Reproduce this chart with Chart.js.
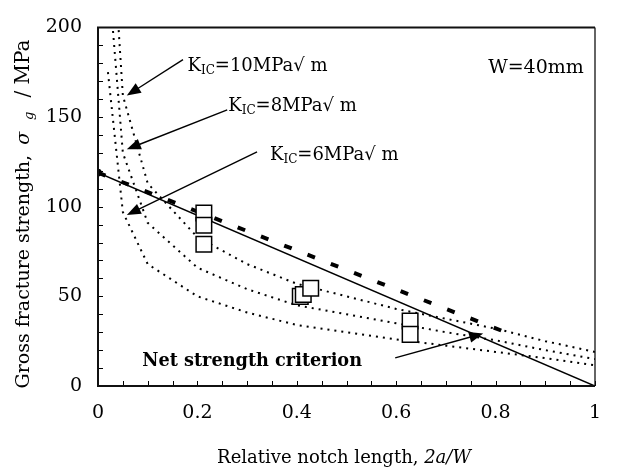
<!DOCTYPE html>
<html><head><meta charset="utf-8">
<script src="https://cdn.jsdelivr.net/npm/chart.js@4"></script>
<style>html,body{margin:0;padding:0;background:#fff}#wrap{width:631px;height:468px}</style>
</head><body><div id="wrap"><canvas id="c" width="631" height="468"></canvas></div>
<script>
// ---- data ----
const alphaK    = [0.02, 0.05, 0.1, 0.2, 0.3, 0.4, 0.5, 0.6, 0.7, 0.8, 0.9, 1.0];
const sigmaK10  = [292, 162, 113, 83, 68, 57, 50, 43, 37.5, 32, 25, 19];
const sigmaK8   = [233, 130, 91, 66, 54, 45, 40, 35, 30, 25.5, 20, 15];
const sigmaK6   = [175, 97, 68, 50, 41, 34, 30, 26, 22.5, 19, 15.5, 11.5];
const netAlpha  = [0, 1];
const netSigma  = [119, 0];
const dashAlpha = [0, 0.82];
const dashSigma = [119, 30];
const expAlpha  = [0.213, 0.213, 0.213, 0.407, 0.413, 0.428, 0.628, 0.628];
const expSigma  = [96.5, 89.7, 79.1, 50, 51, 54.5, 36.2, 28.8];
const xTicks    = [0, 0.2, 0.4, 0.6, 0.8, 1];
const yTicks    = [0, 50, 100, 150, 200];
const kLabels   = ['10', '8', '6'];

// annotations (data coordinates)
const kText   = [{x:0.18, y:175.6}, {x:0.262, y:153.4}, {x:0.346, y:126.3}];
const kArrows = [{x1:0.171,y1:182,x2:0.058,y2:162},{x1:0.26,y1:154,x2:0.058,y2:132},{x1:0.32,y1:130.6,x2:0.058,y2:95.4}];
const netArrow = {x1:0.598,y1:15.7,x2:0.775,y2:29.3};

const pts = (xs, ys) => xs.map((x, i) => ({x, y: ys[i]}));
const SERIF = "'DejaVu Serif', serif";

function drawArrow(ctx, x1, y1, x2, y2) {
  const a = Math.atan2(y2 - y1, x2 - x1), L = 14, W = 5.5;
  const c = Math.cos(a), s = Math.sin(a);
  ctx.beginPath(); ctx.moveTo(x1, y1); ctx.lineTo(x2 - L * 0.8 * c, y2 - L * 0.8 * s); ctx.stroke();
  ctx.beginPath(); ctx.moveTo(x2, y2);
  ctx.lineTo(x2 - L * c + W * s, y2 - L * s - W * c);
  ctx.lineTo(x2 - L * c - W * s, y2 - L * s + W * c);
  ctx.closePath(); ctx.fill();
}

function drawParts(ctx, x, y, parts) {
  let cx = x;
  for (const p of parts) {
    ctx.font = p.f;
    ctx.fillText(p.t, cx, y + (p.dy || 0));
    cx += ctx.measureText(p.t).width + (p.gap || 0);
  }
}
function partsWidth(ctx, parts) {
  let w = 0;
  for (const p of parts) { ctx.font = p.f; w += ctx.measureText(p.t).width + (p.gap || 0); }
  return w;
}

const decor = {
  id: 'decor',
  beforeDatasetsDraw(chart) {
    const {ctx, chartArea: ca, scales: {x, y}} = chart;
    ctx.save();
    ctx.strokeStyle = '#000'; ctx.lineWidth = 1;
    for (let v = 0; v <= 1.0001; v += 0.05) {
      const px = Math.round(x.getPixelForValue(v)) + 0.5;
      ctx.beginPath(); ctx.moveTo(px, ca.bottom); ctx.lineTo(px, ca.bottom - 5); ctx.stroke();
    }
    for (let v = 0; v <= 200; v += 10) {
      const py = Math.round(y.getPixelForValue(v)) + 0.5;
      ctx.beginPath(); ctx.moveTo(ca.left, py); ctx.lineTo(ca.left + 5, py); ctx.stroke();
    }
    ctx.restore();
  },
  afterDatasetsDraw(chart) {
    const {ctx, chartArea: ca, scales: {x, y}} = chart;
    ctx.save();
    ctx.strokeStyle = '#111';
    ctx.lineWidth = 2;
    ctx.beginPath();
    ctx.moveTo(ca.right, ca.top); ctx.lineTo(ca.left, ca.top); ctx.lineTo(ca.left, ca.bottom); ctx.lineTo(ca.right, ca.bottom);
    ctx.stroke();
    ctx.lineWidth = 1.3;
    ctx.beginPath(); ctx.moveTo(ca.right, ca.top); ctx.lineTo(ca.right, ca.bottom); ctx.stroke();

    ctx.fillStyle = '#000'; ctx.strokeStyle = '#000'; ctx.lineWidth = 1.4;
    for (const a of kArrows) {
      drawArrow(ctx, x.getPixelForValue(a.x1), y.getPixelForValue(a.y1), x.getPixelForValue(a.x2), y.getPixelForValue(a.y2));
    }
    drawArrow(ctx, x.getPixelForValue(netArrow.x1), y.getPixelForValue(netArrow.y1), x.getPixelForValue(netArrow.x2), y.getPixelForValue(netArrow.y2));

    ctx.textBaseline = 'alphabetic'; ctx.textAlign = 'left';
    kText.forEach((p, i) => {
      drawParts(ctx, x.getPixelForValue(p.x), y.getPixelForValue(p.y), [
        {t: 'K', f: `18px ${SERIF}`},
        {t: 'IC', f: `12px ${SERIF}`, dy: 3},
        {t: '=' + kLabels[i] + 'MPa\u221A m', f: `18px ${SERIF}`}
      ]);
    });
    ctx.font = `19px ${SERIF}`;
    ctx.fillText('W=40mm', x.getPixelForValue(0.785), y.getPixelForValue(174.4));
    ctx.font = `bold 17.7px ${SERIF}`;
    ctx.fillText('Net strength criterion', x.getPixelForValue(0.089), y.getPixelForValue(11.4));

    const xp = [
      {t: 'Relative notch length, ', f: `18px ${SERIF}`},
      {t: '2a/W', f: `italic 18px ${SERIF}`}
    ];
    const xw = partsWidth(ctx, xp);
    drawParts(ctx, 344 - xw / 2, 463, xp);

    const yp = [
      {t: 'Gross fracture strength, ', f: `19px ${SERIF}`, gap: 4},
      {t: '\u03C3', f: `italic 19px ${SERIF}`, gap: 12},
      {t: 'g', f: `italic 13px ${SERIF}`, dy: 4, gap: 14},
      {t: '/ MPa', f: `20px ${SERIF}`}
    ];
    const yw = partsWidth(ctx, yp);
    ctx.translate(29, 214);
    ctx.rotate(-Math.PI / 2);
    drawParts(ctx, -yw / 2, 0, yp);
    ctx.restore();
  }
};

const dotted = (d) => ({
  data: d, showLine: true, borderColor: '#000', borderWidth: 2, borderDash: [2, 5],
  borderCapStyle: 'butt', pointRadius: 0, tension: 0, order: 3
});

new Chart(document.getElementById('c'), {
  type: 'scatter',
  data: {
    datasets: [
      {label: 'Experiment', data: pts(expAlpha, expSigma), pointStyle: 'rect', pointRadius: 11,
       borderColor: '#000', backgroundColor: '#fff', borderWidth: 1.5, showLine: false, order: 0},
      {label: 'Net strength criterion', data: pts(netAlpha, netSigma), showLine: true, borderColor: '#000',
       borderWidth: 1.6, pointRadius: [3, 0], pointBackgroundColor: '#000', pointBorderColor: '#000', order: 1},
      {label: 'Dashed', data: pts(dashAlpha, dashSigma), showLine: true, borderColor: '#000', borderWidth: 4,
       borderDash: [8, 17], borderCapStyle: 'butt', pointRadius: 0, order: 2},
      Object.assign(dotted(pts(alphaK, sigmaK10)), {label: 'KIC=10'}),
      Object.assign(dotted(pts(alphaK, sigmaK8)), {label: 'KIC=8'}),
      Object.assign(dotted(pts(alphaK, sigmaK6)), {label: 'KIC=6'})
    ]
  },
  options: {
    responsive: false, animation: false, events: [],
    plugins: {legend: {display: false}, tooltip: {enabled: false}},
    layout: {padding: {top: 17, right: 36, left: 0, bottom: 0}},
    scales: {
      x: {
        type: 'linear', min: 0, max: 1,
        afterFit: s => { s.height = 82; },
        afterBuildTicks: s => { s.ticks = xTicks.map(v => ({value: v})); },
        grid: {display: false, drawTicks: false}, border: {display: false},
        ticks: {font: {family: SERIF, size: 19}, color: '#000', padding: 16, maxRotation: 0,
                callback: v => String(Math.round(v * 10) / 10)}
      },
      y: {
        type: 'linear', min: 0, max: 200,
        afterFit: s => { s.width = 98; },
        afterBuildTicks: s => { s.ticks = yTicks.map(v => ({value: v})); },
        grid: {display: false, drawTicks: false}, border: {display: false},
        ticks: {font: {family: SERIF, size: 19}, color: '#000', padding: 16}
      }
    }
  },
  plugins: [decor]
});
</script>
</body></html>
